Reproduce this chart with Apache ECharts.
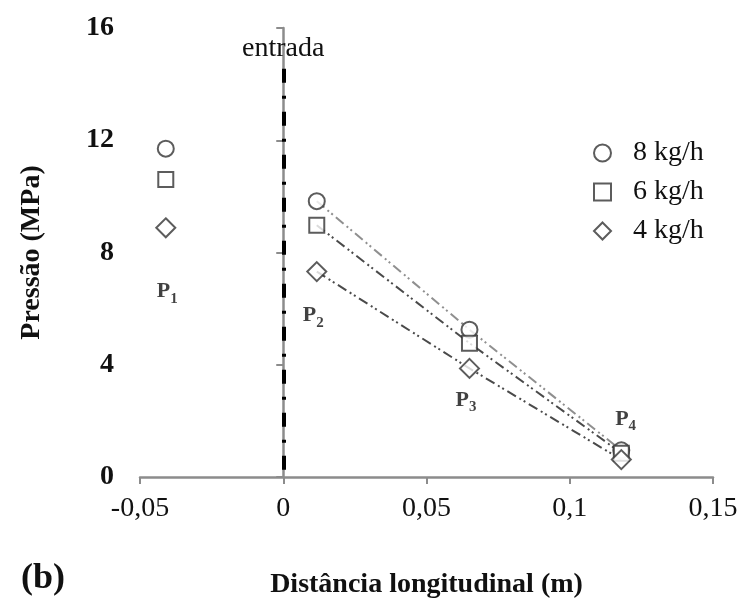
<!DOCTYPE html>
<html>
<head>
<meta charset="utf-8">
<script src="https://cdn.jsdelivr.net/npm/echarts@6/dist/echarts.min.js"></script>
<style>
  html, body { margin: 0; padding: 0; background: #fff; }
  #chart { width: 747px; height: 607px; }
</style>
</head>
<body>
<div id="chart"></div>
<script>
// posições (m) dos pontos de medição P1..P4
const positions = [-0.041, 0.0117, 0.065, 0.118]
const seriesNames = ['8 kg/h', '6 kg/h', '4 kg/h']
const symbols = ['circle', 'rect', 'diamond']
const symbolSizes = [16, 15, 19]
const lineColors = ['#8f8f8f', '#4a4a4a', '#4a4a4a']
// pressão (MPa) em P1..P4
const p8 = [11.7, 9.83, 5.25, 0.95]
const p6 = [10.6, 8.97, 4.77, 0.85]
const p4 = [8.88, 7.32, 3.87, 0.62]
const pressures = [p8, p6, p4]

const pointLabels = ['1', '2', '3', '4']
const labelX = [-0.0405, 0.0105, 0.0638, 0.1195]
const labelY = [6.6, 5.75, 2.75, 2.05]

const xTicks = { min: -0.05, max: 0.15, interval: 0.05 }
const yTicks = { min: 0, max: 16, interval: 4 }

const font = 'Liberation Serif'
const axisGray = '#8c8c8c'

const fmt = v => String(Math.round(v * 100) / 100).replace('.', ',')

const chart = echarts.init(document.getElementById('chart'))

const series = []
seriesNames.forEach((name, i) => {
  // marcadores em todos os pontos
  series.push({
    name,
    type: 'scatter',
    symbol: symbols[i],
    symbolSize: symbolSizes[i],
    itemStyle: { color: '#fff', borderColor: '#333', borderWidth: 2 },
    data: positions.map((x, k) => [x, pressures[i][k]]),
    z: 5
  })
  // linha tracejada P2 -> P4
  series.push({
    name: name + ' linha',
    type: 'line',
    showSymbol: false,
    silent: true,
    lineStyle: { color: lineColors[i], width: 2, cap: 'butt', type: [10, 4, 2, 3, 2, 4] },
    data: positions.slice(1).map((x, k) => [x, pressures[i][k + 1]]),
    z: 3
  })
})

// rótulos P1..P4
series.push({
  type: 'scatter',
  symbol: 'circle',
  symbolSize: 1,
  silent: true,
  itemStyle: { color: 'transparent' },
  data: labelX.map((x, k) => [x, labelY[k]]),
  label: {
    show: true,
    position: 'inside',
    formatter: p => '{p|P}{s|' + pointLabels[p.dataIndex] + '}',
    rich: {
      p: { fontFamily: font, fontWeight: 'bold', fontSize: 22, color: '#111' },
      s: { fontFamily: font, fontWeight: 'bold', fontSize: 15, color: '#111', padding: [14, 0, 0, 0] }
    }
  },
  z: 6
})

// linha da entrada
series.push({
  type: 'line',
  data: [],
  silent: true,
  markLine: {
    symbol: 'none',
    silent: true,
    lineStyle: { color: '#000', width: 4, cap: 'butt', type: [14, 13, 3, 13] },
    label: { show: true, position: 'start', distance: 6, formatter: 'entrada', fontFamily: font, fontSize: 28, color: '#111' },
    data: [[{ coord: [0, 14.55] }, { coord: [0, 0] }]]
  }
})

chart.setOption({
  animation: false,
  backgroundColor: '#fff',
  textStyle: { fontFamily: font },
  title: {
    text: '(b)',
    left: 16,
    top: 556,
    textStyle: { fontFamily: font, fontWeight: 'bold', fontSize: 36, color: '#111' }
  },
  grid: { left: 140, right: 34, top: 28, bottom: 130 },
  legend: {
    data: seriesNames.map((n, i) => ({ name: n, icon: symbols[i] })),
    orient: 'vertical',
    left: 588,
    top: 134,
    itemWidth: 17,
    itemHeight: 17,
    itemGap: 11,
    itemStyle: { color: '#fff', borderColor: '#333', borderWidth: 2 },
    textStyle: { fontFamily: font, fontSize: 28, lineHeight: 28, color: '#111', padding: [0, 0, 0, 17] }
  },
  xAxis: {
    type: 'value',
    min: xTicks.min,
    max: xTicks.max,
    interval: xTicks.interval,
    name: 'Distância longitudinal (m)',
    nameLocation: 'middle',
    nameGap: 94,
    nameTextStyle: { fontFamily: font, fontWeight: 'bold', fontSize: 28, color: '#111' },
    axisLine: { show: true, onZero: false, lineStyle: { color: axisGray, width: 2.5 } },
    axisTick: { show: true, length: 7, lineStyle: { color: axisGray, width: 2 } },
    axisLabel: { formatter: fmt, margin: 18, fontFamily: font, fontSize: 28, color: '#111' },
    splitLine: { show: false }
  },
  yAxis: {
    type: 'value',
    min: yTicks.min,
    max: yTicks.max,
    interval: yTicks.interval,
    name: 'Pressão (MPa)',
    nameLocation: 'middle',
    nameRotate: 90,
    nameGap: 94,
    nameTextStyle: { fontFamily: font, fontWeight: 'bold', fontSize: 28, color: '#111' },
    axisLine: { show: true, lineStyle: { color: axisGray, width: 2.5 } },
    axisTick: { show: true, length: 7, lineStyle: { color: axisGray, width: 2 } },
    axisLabel: { margin: 26, fontFamily: font, fontWeight: 'bold', fontSize: 28, color: '#111' },
    splitLine: { show: false }
  },
  series
})
</script>
</body>
</html>
